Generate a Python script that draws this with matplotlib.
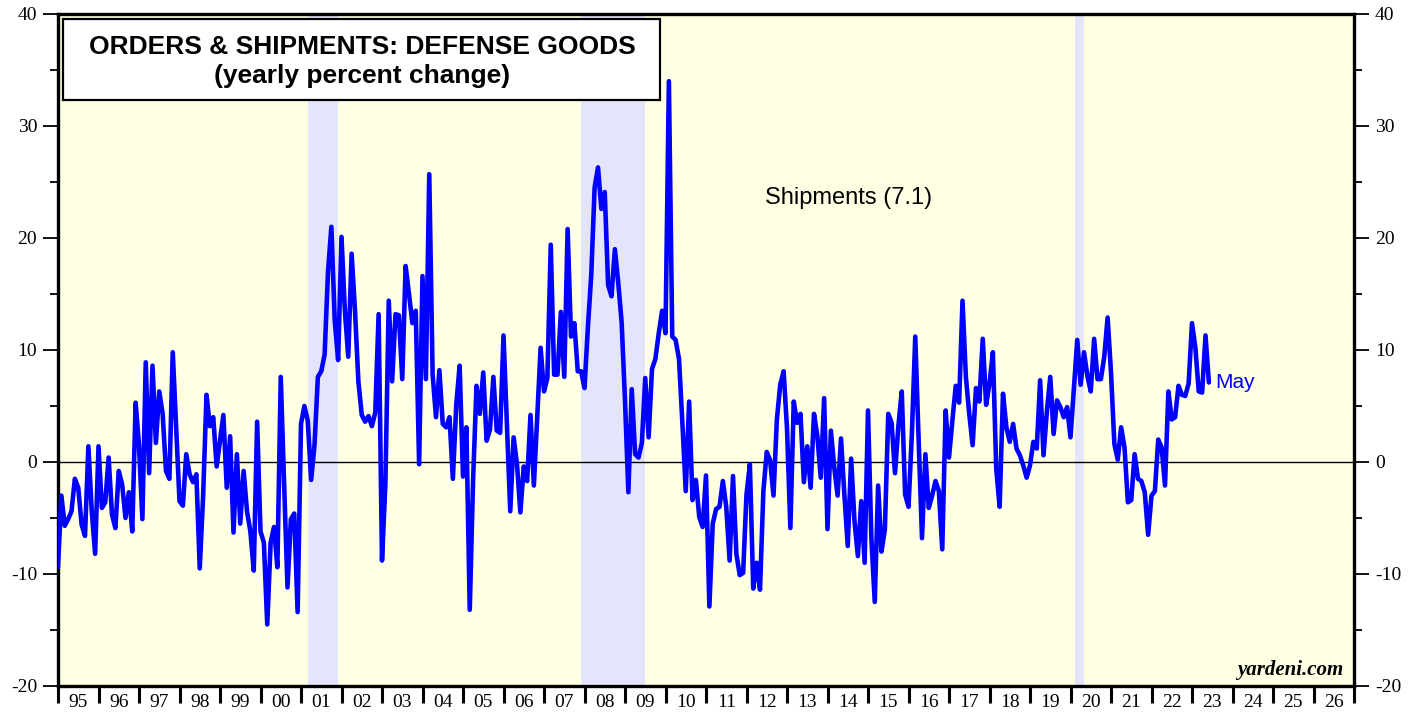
import numpy as np
import matplotlib
matplotlib.use("Agg")
import matplotlib.pyplot as plt
from matplotlib.patches import Rectangle

plt.rcParams["axes.unicode_minus"] = False

# yearly % change in defense goods shipments, monthly (month-end points from Dec 1994)
start_year = 1995
shipments = [
    -9.4, -3.0, -5.7, -5.1, -4.4, -1.5, -2.3, -5.6, -6.6, 1.4, -4.4, -8.2,
    1.4, -4.1, -3.6, 0.4, -4.7, -5.9, -0.8, -2.0, -5.0, -2.7, -6.2, 5.3,
    1.5, -5.1, 8.9, -1.0, 8.6, 1.7, 6.3, 4.3, -0.8, -1.5, 9.8, 3.1,
    -3.5, -3.9, 0.7, -1.1, -1.8, -1.1, -9.5, -3.0, 6.0, 3.2, 4.0, -0.4,
    1.9, 4.2, -2.3, 2.3, -6.3, 0.7, -5.5, -0.8, -4.4, -6.2, -9.7, 3.6,
    -6.2, -7.2, -14.5, -7.2, -5.8, -9.4, 7.6, -2.0, -11.2, -5.1, -4.6, -13.4,
    3.4, 5.0, 3.7, -1.6, 1.5, 7.6, 8.1, 9.6, 17.0, 21.0, 12.6, 9.1,
    20.1, 13.5, 9.4, 18.6, 13.5, 7.2, 4.2, 3.6, 4.1, 3.2, 4.4, 13.2,
    -8.8, -2.0, 14.4, 7.2, 13.2, 13.1, 7.4, 17.5, 15.0, 12.4, 13.5, -0.2,
    16.6, 7.4, 25.7, 7.8, 4.0, 8.2, 3.4, 3.1, 4.0, -1.5, 5.1, 8.6,
    -1.3, 3.1, -13.2, -1.5, 6.8, 4.3, 8.0, 1.9, 2.9, 7.6, 2.8, 2.6,
    11.3, 3.5, -4.4, 2.2, -0.2, -4.5, -0.4, -1.7, 4.2, -2.1, 4.0, 10.2,
    6.3, 7.5, 19.4, 7.8, 7.8, 13.4, 7.6, 20.8, 11.2, 12.4, 8.1, 8.1,
    6.6, 12.0, 16.7, 24.5, 26.3, 22.6, 24.1, 15.8, 14.8, 19.0, 16.0, 12.5,
    5.5, -2.7, 6.5, 0.7, 0.4, 1.7, 7.5, 2.2, 8.3, 9.2, 11.5, 13.5,
    11.5, 34.0, 11.2, 10.9, 9.2, 3.5, -2.6, 5.4, -3.4, -1.6, -4.9, -5.8,
    -1.2, -12.9, -5.5, -4.2, -4.0, -1.7, -4.0, -8.8, -1.25, -8.2, -10.1, -9.9,
    -2.9, -0.2, -11.3, -9.0, -11.4, -2.6, 0.9, 0.15, -3.0, 3.8, 6.9, 8.1,
    3.0, -5.9, 5.4, 3.5, 4.3, -1.8, 1.4, -2.3, 4.3, 2.3, -1.4, 5.7,
    -6.0, 2.8, -0.5, -3.0, 2.1, -2.9, -7.5, 0.3, -5.3, -8.4, -3.5, -9.0,
    4.6, -6.8, -12.5, -2.1, -8.0, -6.0, 4.3, 3.5, -1.0, 3.2, 6.3, -2.9,
    -4.0, 2.5, 11.2, 2.0, -6.8, 0.7, -4.1, -3.0, -1.7, -2.6, -7.8, 4.6,
    0.4, 3.7, 6.8, 5.3, 14.4, 7.6, 4.3, 1.5, 6.6, 5.4, 11.0, 5.1,
    7.0, 9.8, -0.6, -4.0, 6.1, 3.1, 1.8, 3.4, 1.2, 0.6, -0.3, -1.4,
    -0.3, 1.8, 1.2, 7.3, 0.6, 4.5, 7.6, 2.5, 5.5, 4.9, 4.0, 4.9,
    2.2, 6.5, 10.9, 6.9, 9.8, 7.7, 6.3, 11.0, 7.4, 7.4, 9.4, 12.9,
    8.0, 1.6, 0.2, 3.1, 1.3, -3.6, -3.4, 0.7, -1.5, -1.7, -2.7, -6.5,
    -3.0, -2.6, 2.0, 1.3, -2.1, 6.3, 3.8, 4.0, 6.8, 6.0, 5.9, 7.0,
    12.4, 10.2, 6.3, 6.2, 11.3, 7.1,
]

# recessions (decimal years)
recessions = [(2001.17, 2001.92), (2007.92, 2009.5), (2020.12, 2020.33)]

year_ticks = list(range(1995, 2028))
year_labels = [f"{y % 100:02d}" for y in range(1995, 2027)]
y_ticks = [-20, -10, 0, 10, 20, 30, 40]

serif = "Liberation Serif"
sans = "Liberation Sans"


def main():
    x = start_year + np.arange(len(shipments)) / 12.0

    fig = plt.figure(figsize=(14.21, 7.19), dpi=100)
    ax = fig.add_axes([58 / 1421, 1 - 686 / 719, 1296 / 1421, 672 / 719])
    ax.set_facecolor("#ffffe4")

    for a, b in recessions:
        ax.axvspan(a, b, color="#e4e4fa", lw=0, zorder=0.5)

    ax.axhline(0, color="black", lw=1.0, zorder=1)
    ax.plot(x, shipments, color="#0000ff", lw=3.3, zorder=3,
            solid_joinstyle="round", solid_capstyle="round")

    ax.set_xlim(1995, 2027)
    ax.set_ylim(-20, 40)

    # x axis: tick marks at year boundaries, labels centred in each year
    ax.set_xticks(year_ticks)
    ax.set_xticklabels([])
    ax.set_xticks([y + 0.5 for y in range(1995, 2027)], minor=True)
    ax.set_xticklabels(year_labels, minor=True, fontfamily=serif, fontsize=14)
    ax.tick_params(axis="x", which="major", direction="out", length=12,
                   width=2.2, bottom=True, top=False)
    ax.tick_params(axis="x", which="minor", length=0, pad=6)

    # y axis: both sides
    ax.set_yticks(y_ticks)
    ax.set_yticks(np.arange(-15, 40, 10), minor=True)
    ax.yaxis.set_tick_params(labelleft=True, labelright=True)
    ax.tick_params(axis="y", which="major", direction="out", length=11,
                   width=1.3, left=True, right=True, pad=4)
    ax.tick_params(axis="y", which="minor", direction="out", length=6,
                   width=1.3, left=True, right=True)
    for lab in ax.get_yticklabels():
        lab.set_fontfamily(serif)
        lab.set_fontsize(14)

    for s in ax.spines.values():
        s.set_linewidth(2.4)

    # title box
    ax.add_patch(Rectangle((0.004, 0.872), 0.4607, 0.1206,
                           transform=ax.transAxes, facecolor="white",
                           edgecolor="black", lw=1.6, zorder=5))
    ax.text(0.2346, 0.951, "ORDERS & SHIPMENTS: DEFENSE GOODS",
            transform=ax.transAxes, ha="center", va="center",
            fontfamily=sans, fontweight="bold", fontsize=19, zorder=6)
    ax.text(0.2346, 0.908, "(yearly percent change)",
            transform=ax.transAxes, ha="center", va="center",
            fontfamily=sans, fontweight="bold", fontsize=19, zorder=6)

    ax.text(2012.45, 23.6, f"Shipments ({shipments[-1]:.1f})",
            ha="left", va="center", fontfamily=sans, fontsize=17)
    ax.text(x[-1] + 0.15, shipments[-1], "May", color="#0000ff",
            ha="left", va="center", fontfamily=sans, fontsize=15)

    ax.text(0.9915, 0.016, "yardeni.com", transform=ax.transAxes,
            ha="right", va="baseline", fontfamily=serif,
            fontweight="bold", fontstyle="italic", fontsize=15)

    fig.savefig("out.png", dpi=100)
    plt.close(fig)


if __name__ == "__main__":
    main()
